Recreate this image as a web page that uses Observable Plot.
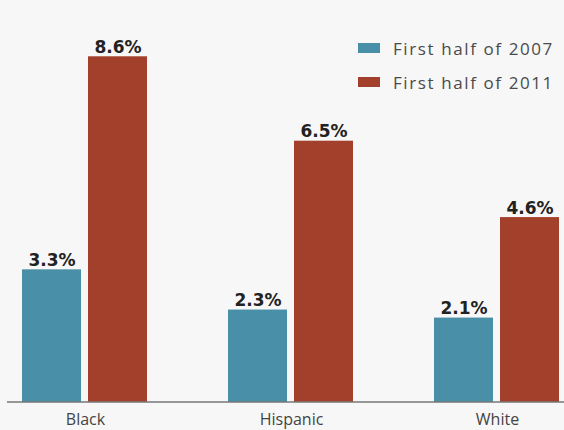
<!DOCTYPE html>
<html>
<head>
<meta charset="utf-8">
<script src="https://cdn.jsdelivr.net/npm/d3@7"></script>
<script src="https://cdn.jsdelivr.net/npm/@observablehq/plot@0.6"></script>
<style>
  html, body { margin: 0; padding: 0; background: #f7f7f7; }
  #wrap { position: relative; width: 564px; height: 430px; background: #f7f7f7; overflow: hidden; }
  #legend { position: absolute; left: 358px; top: 31px; font-family: "Open Sans", sans-serif; font-size: 17px; color: #4a4a4a; letter-spacing: 1.6px; }
  .row { display: flex; align-items: center; height: 34px; }
  .sw { width: 22px; height: 10px; margin-right: 13px; flex: none; }
</style>
</head>
<body>
<div id="wrap"><div id="legend"></div></div>
<script>
const categories = ["Black", "Hispanic", "White"];
const periods = ["First half of 2007", "First half of 2011"];
const values2007 = [3.3, 2.3, 2.1];
const values2011 = [8.6, 6.5, 4.6];
const colors = ["#4a8fa8", "#a3402b"];

const data = categories.flatMap((c, i) => [
  {category: c, period: periods[0], value: values2007[i]},
  {category: c, period: periods[1], value: values2011[i]}
]);

const chart = Plot.plot({
  width: 564,
  height: 430,
  marginLeft: 21,
  marginRight: 2,
  marginTop: 0,
  marginBottom: 28,
  style: {background: "transparent", fontFamily: "Open Sans, sans-serif"},
  fx: {domain: categories, paddingInner: 0.386, paddingOuter: 0, axis: null, label: null},
  x: {domain: periods, paddingInner: 0.104, paddingOuter: 0, axis: null},
  y: {domain: [0, 10], axis: null},
  color: {domain: periods, range: colors},
  marks: [
    Plot.barY(data, {fx: "category", x: "period", y: "value", fill: "period"}),
    Plot.text(data, {
      fx: "category", x: "period", y: "value",
      text: d => d.value.toFixed(1) + "%",
      lineAnchor: "bottom", dy: -4,
      fontFamily: "DejaVu Sans", fontWeight: "bold", fontSize: 17, fill: "#222"
    }),
    Plot.text(categories, {
      fx: d => d, text: d => d,
      frameAnchor: "bottom", lineAnchor: "middle", dy: 17,
      fontSize: 16, fill: "#444"
    })
  ]
});

document.getElementById("wrap").prepend(chart);

// baseline across the full width
const y0 = chart.scale("y").apply(0);
d3.select(chart).append("line")
  .attr("x1", 7).attr("x2", 564)
  .attr("y1", y0).attr("y2", y0)
  .attr("stroke", "#777").attr("stroke-width", 1.5);

// legend
const legend = d3.select("#legend");
periods.forEach((p, i) => {
  const row = legend.append("div").attr("class", "row");
  row.append("div").attr("class", "sw").style("background", chart.scale("color").apply(p));
  row.append("span").text(p);
});
</script>
</body>
</html>
